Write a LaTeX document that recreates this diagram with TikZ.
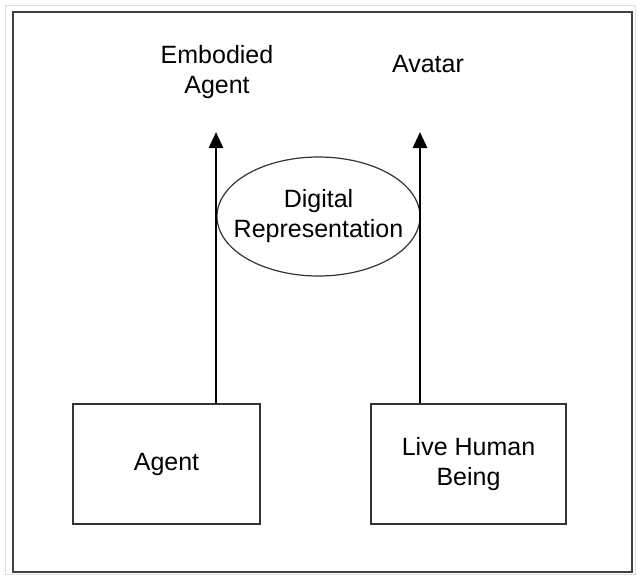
\documentclass[tikz,border=0pt]{standalone}
\usepackage{fontspec}
\setmainfont{Liberation Sans}
\usetikzlibrary{arrows.meta,shapes.geometric}
\begin{document}
\begin{tikzpicture}[x=1pt,y=-1pt,
  txt/.style={font=\fontsize{25}{30}\selectfont, align=center, inner sep=0pt},
  boxnode/.style={txt, draw=black!80, line width=1.6pt, minimum height=120pt},
  ellnode/.style={ellipse, draw=black!80, line width=1.2pt, inner sep=0pt, minimum width=203pt, minimum height=119pt},
  arr/.style={line width=2.6pt, -{Triangle[width=14pt,length=16pt]}}]
\useasboundingbox (0,0) rectangle (639,576);
\draw[gray!25, line width=1pt] (5,5) rectangle (635,574);
\draw[black!75, line width=2pt] (13,12) rectangle (632,572);
\node[boxnode, minimum width=187pt] (agent) at (166.5,464) {Agent};
\node[boxnode, minimum width=195pt] (human) at (468.5,464) {Live Human\\Being};
\node[ellnode] (dig) at (318.5,216.5) {};
\node[txt] (digtext) at (dig.center) {Digital\\Representation};
\coordinate (tipL) at (216,132);
\coordinate (tipR) at (420,132);
\node[txt] (emb) at (217,72) {Embodied\\Agent};
\node[txt] (ava) at (428,64) {Avatar};
\draw[arr] (agent.north -| tipL) -- (tipL);
\draw[arr] (human.north -| tipR) -- (tipR);
\end{tikzpicture}
\end{document}
